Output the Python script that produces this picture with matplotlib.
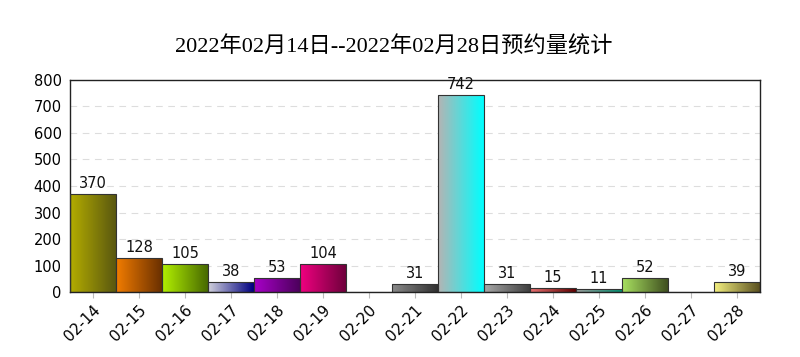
import numpy as np
import matplotlib
matplotlib.use('Agg')
from matplotlib import pyplot as plt
from matplotlib.colors import LinearSegmentedColormap

dates = ['02-14', '02-15', '02-16', '02-17', '02-18', '02-19', '02-20', '02-21',
         '02-22', '02-23', '02-24', '02-25', '02-26', '02-27', '02-28']
counts = [370, 128, 105, 38, 53, 104, 0, 31, 742, 31, 15, 11, 52, 0, 39]

# gradient colours for each bar: left (light) -> right (dark)
left_colors = ['#b4ac00', '#f27c00', '#b2f000', '#d0d0dc', '#a800c8', '#f00080', '#ffffff',
               '#8a8a8a', '#b4b4b4', '#a8a8a8', '#e87070', '#a0a0a0', '#a8e060', '#ffffff', '#f4f080']
right_colors = ['#5a5810', '#6a3000', '#486a00', '#000080', '#4c005c', '#70003c', '#ffffff',
                '#303030', '#00ffff', '#404040', '#600000', '#009070', '#405020', '#ffffff', '#5a5020']

plt.rcParams['font.family'] = ['DejaVu Sans']
fig = plt.figure(figsize=(8, 3.57), dpi=100)
ax = fig.add_axes([0.0875, 0.182, 0.8625, 0.594])

x = np.arange(len(dates))
bars = ax.bar(x, counts, width=0.98, facecolor='none', edgecolor='#333333', linewidth=0.8, zorder=3)
grad = np.linspace(0, 1, 64).reshape(1, -1)
for b, v, c1, c2 in zip(bars, counts, left_colors, right_colors):
    if v == 0:
        continue
    cmap = LinearSegmentedColormap.from_list('g', [c1, c2])
    x0 = b.get_x()
    im = ax.imshow(grad, cmap=cmap, aspect='auto', extent=[x0, x0 + b.get_width(), 0, v], zorder=2)
    im.set_clip_path(b)
    ax.text(b.get_x() + b.get_width() / 2, v + 12, str(v), ha='center', va='bottom', fontsize=10.5, color='#111111')

ax.set_xlim(-0.5, len(dates) - 0.5)
ax.set_ylim(0, 800)
ax.set_yticks(range(0, 900, 100))
ax.yaxis.grid(True, linestyle=(0, (6, 5)), color='#dddddd', linewidth=0.8, zorder=0)
ax.set_axisbelow(True)
ax.set_xticks(x)
ax.set_xticklabels(dates, rotation=45, ha='right', rotation_mode='anchor', fontsize=11)
ax.tick_params(axis='x', length=4, color='#bbbbbb')
ax.tick_params(axis='y', length=0, labelsize=10.5, pad=6)
for s in ax.spines.values():
    s.set_color('#222222')
    s.set_linewidth(1.0)

fig.text(0.492, 0.868, '2022年02月14日--2022年02月28日预约量统计', ha='center', va='center',
         fontsize=16, family=['Liberation Serif', 'Noto Sans CJK SC'])

plt.savefig('out.png', dpi=100)
